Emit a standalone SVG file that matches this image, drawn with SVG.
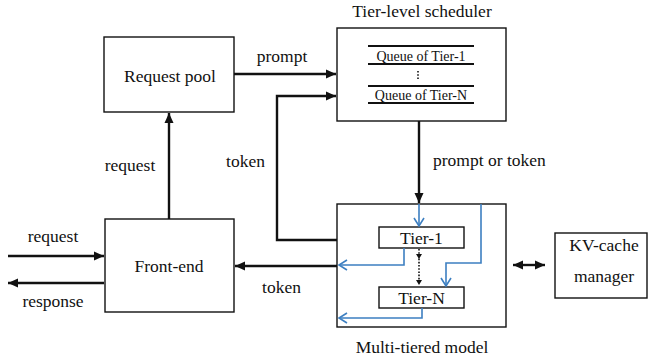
<svg xmlns="http://www.w3.org/2000/svg" width="649" height="364" viewBox="0 0 649 364">
<style>
text{font-family:'Liberation Serif',serif;fill:#111;}
.box{fill:#fff;stroke:#111;stroke-width:1.4;}
.ln{fill:none;stroke:#111;stroke-width:2.4;}
.bl{fill:none;stroke:#3d7fc1;stroke-width:1.6;}
.qline{stroke:#111;stroke-width:2;}
</style>
<defs>
<marker id="ah" markerUnits="userSpaceOnUse" markerWidth="11" markerHeight="10" refX="10" refY="5" orient="auto-start-reverse">
<path d="M0,0.5 L10,5 L0,9.5 Z" fill="#111"/>
</marker>
<marker id="bh" markerUnits="userSpaceOnUse" markerWidth="12" markerHeight="12" refX="9" refY="6" orient="auto">
<path d="M1,1 L9,6 L1,11" fill="none" stroke="#3d7fc1" stroke-width="1.6"/>
</marker>
</defs>
<g id="request-pool">
<rect class="box" x="104" y="37" width="130" height="75"/>
<text font-size="17.5" x="170" y="82" text-anchor="middle">Request pool</text>
</g>
<g id="scheduler">
<text font-size="17.5" x="422" y="17" text-anchor="middle">Tier-level scheduler</text>
<rect class="box" x="337" y="28" width="169" height="93"/>
<line class="qline" x1="368" y1="46" x2="474" y2="46"/>
<text font-size="14" x="421" y="61" text-anchor="middle">Queue of Tier-1</text>
<line class="qline" x1="368" y1="64" x2="474" y2="64"/>
<line x1="418" y1="71" x2="418" y2="80" stroke="#111" stroke-width="1.6" stroke-dasharray="1.6,1.6"/>
<line class="qline" x1="368" y1="86" x2="474" y2="86"/>
<text font-size="14" x="421" y="100" text-anchor="middle">Queue of Tier-N</text>
<line class="qline" x1="368" y1="103" x2="474" y2="103"/>
</g>
<g id="front-end">
<rect class="box" x="105" y="219" width="129" height="93"/>
<text font-size="17.5" x="169" y="272" text-anchor="middle">Front-end</text>
</g>
<g id="model">
<rect class="box" x="337" y="204" width="169" height="123"/>
<rect class="box" x="379" y="227" width="85" height="21"/>
<text font-size="17.5" x="421.5" y="244" text-anchor="middle">Tier-1</text>
<rect class="box" x="379" y="287" width="85" height="21"/>
<text font-size="17.5" x="421.5" y="304" text-anchor="middle">Tier-N</text>
<text font-size="17.5" x="422" y="353" text-anchor="middle">Multi-tiered model</text>
</g>
<g id="kv-cache">
<rect class="box" x="555" y="233" width="92" height="65"/>
<text font-size="17.5" x="604" y="251" text-anchor="middle">KV-cache</text>
<text font-size="17.5" x="604" y="282" text-anchor="middle">manager</text>
</g>
<g id="connectors">
<path class="ln" d="M234,74 H336" marker-end="url(#ah)"/>
<text font-size="17.5" x="282" y="62" text-anchor="middle">prompt</text>
<path class="ln" d="M337,240 H277 V96 H336" marker-end="url(#ah)"/>
<text font-size="17.5" x="245.5" y="167" text-anchor="middle">token</text>
<path class="ln" d="M419,121 V203" marker-end="url(#ah)"/>
<text font-size="17.5" x="433" y="166">prompt or token</text>
<path class="ln" d="M337,266 H235" marker-end="url(#ah)"/>
<text font-size="17.5" x="281.5" y="293" text-anchor="middle">token</text>
<path class="ln" d="M169,219 V113" marker-end="url(#ah)"/>
<text font-size="17.5" x="130" y="171" text-anchor="middle">request</text>
<path class="ln" d="M8,256 H104" marker-end="url(#ah)"/>
<text font-size="17.5" x="53" y="242" text-anchor="middle">request</text>
<path class="ln" d="M104,283 H8" marker-end="url(#ah)"/>
<text font-size="17.5" x="53" y="307" text-anchor="middle">response</text>
<path class="ln" d="M513,265 H545" marker-start="url(#ah)" marker-end="url(#ah)"/>
<path class="bl" d="M419,204 V226" marker-end="url(#bh)"/>
<path class="bl" d="M481,204 V263 H446 V286" marker-end="url(#bh)"/>
<path class="bl" d="M404,248 V265 H339" marker-end="url(#bh)"/>
<path class="bl" d="M422,308 V318 H339" marker-end="url(#bh)"/>
<path d="M419,249 V284" fill="none" stroke="#111" stroke-width="1.6" stroke-dasharray="1.6,1.6"/>
<path d="M416,254 L419,259 L422,254 Z" fill="#111"/>
<path d="M416,280 L419,285 L422,280 Z" fill="#111"/>
</g>
</svg>
